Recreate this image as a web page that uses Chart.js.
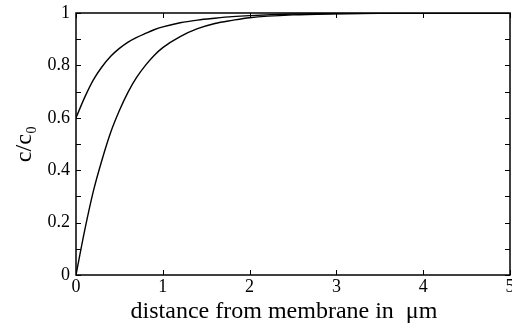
<!DOCTYPE html>
<html>
<head>
<meta charset="utf-8">
<script src="https://cdn.jsdelivr.net/npm/chart.js@4"></script>
<style>
  html, body { margin: 0; padding: 0; background: #fff; }
  #wrap { width: 512px; height: 326px; }
</style>
</head>
<body>
<div id="wrap"><canvas id="myChart" width="512" height="326"></canvas></div>
<script>
// distance from membrane (um)
var xValues = [0, 0.1, 0.2, 0.3, 0.4, 0.5, 0.6, 0.7, 0.8, 0.9, 1.0, 1.2, 1.4, 1.6, 1.8, 2.0, 2.5, 3.0, 3.5, 4.0, 4.5, 5.0];
// upper curve, starts at 0.6
var upperValues = [0.6, 0.678, 0.745, 0.795, 0.835, 0.865, 0.889, 0.907, 0.922, 0.936, 0.947, 0.963, 0.973, 0.98, 0.986, 0.99, 0.996, 0.998, 0.999, 1, 1, 1];
// lower curve, starts at 0
var lowerValues = [0, 0.17, 0.32, 0.44, 0.545, 0.628, 0.698, 0.755, 0.8, 0.838, 0.868, 0.91, 0.94, 0.96, 0.972, 0.982, 0.993, 0.997, 0.999, 1, 1, 1];
var xTicks = [0, 1, 2, 3, 4, 5];
var yTicks = [0, 0.2, 0.4, 0.6, 0.8, 1];
var yMinorTicks = [0.1, 0.3, 0.5, 0.7, 0.9];

function toPoints(ys) {
    return xValues.map(function (x, i) { return {x: x, y: ys[i]}; });
}

var serif = "'Liberation Serif', 'DejaVu Serif', serif";

// frame on all four sides with inward ticks
var frameTicks = {
    id: 'frameTicks',
    afterDraw: function (chart) {
        var ctx = chart.ctx;
        var a = chart.chartArea;
        var xs = chart.scales.x, ys = chart.scales.y;
        ctx.save();
        ctx.strokeStyle = '#000';
        ctx.lineWidth = 1.5;
        ctx.strokeRect(a.left, a.top, a.right - a.left, a.bottom - a.top);
        ctx.lineWidth = 1;
        ctx.beginPath();
        xTicks.forEach(function (v) {
            var px = Math.round(xs.getPixelForValue(v)) + 0.5;
            ctx.moveTo(px, a.bottom); ctx.lineTo(px, a.bottom - 5);
            ctx.moveTo(px, a.top); ctx.lineTo(px, a.top + 5);
        });
        yTicks.concat(yMinorTicks).forEach(function (v) {
            var py = Math.round(ys.getPixelForValue(v)) + 0.5;
            ctx.moveTo(a.left, py); ctx.lineTo(a.left + 5, py);
            ctx.moveTo(a.right, py); ctx.lineTo(a.right - 5, py);
        });
        ctx.stroke();
        ctx.restore();
    }
};

new Chart('myChart', {
    type: 'line',
    data: {
        datasets: [{
            data: toPoints(upperValues),
            borderColor: '#000',
            borderWidth: 1.4,
            pointRadius: 0,
            fill: false,
            cubicInterpolationMode: 'monotone'
        }, {
            data: toPoints(lowerValues),
            borderColor: '#000',
            borderWidth: 1.4,
            pointRadius: 0,
            fill: false,
            cubicInterpolationMode: 'monotone'
        }]
    },
    options: {
        responsive: false,
        animation: false,
        layout: {padding: {top: 13, right: 2, left: 0, bottom: 0}},
        plugins: {legend: {display: false}, tooltip: {enabled: false}},
        scales: {
            x: {
                type: 'linear',
                min: 0, max: 5,
                grid: {display: false, drawTicks: false},
                border: {display: false},
                afterBuildTicks: function (s) { s.ticks = xTicks.map(function (v) { return {value: v}; }); },
                afterFit: function (s) { s.paddingLeft = 0; s.paddingRight = 0; s.height = 51; },
                ticks: {color: '#000', padding: 1, maxRotation: 0, autoSkip: false,
                        font: {family: serif, size: 18}},
                title: {display: true, text: 'distance from membrane in  \u03bcm\u00a0\u00a0\u00a0', color: '#000',
                        font: {family: serif, size: 24}, padding: {top: 0, bottom: 0}}
            },
            y: {
                min: 0, max: 1,
                grid: {display: false, drawTicks: false},
                border: {display: false},
                afterBuildTicks: function (s) { s.ticks = yTicks.map(function (v) { return {value: v}; }); },
                afterFit: function (s) { s.width = 76; s.paddingTop = 0; s.paddingBottom = 0; },
                ticks: {color: '#000', padding: 6, font: {family: serif, size: 18},
                        callback: function (v) { return String(v); }},
                title: {display: true, text: 'c/c\u2080', color: '#000',
                        font: {family: serif, size: 24}, padding: {top: 10, bottom: 0}}
            }
        }
    },
    plugins: [frameTicks]
});
</script>
</body>
</html>
